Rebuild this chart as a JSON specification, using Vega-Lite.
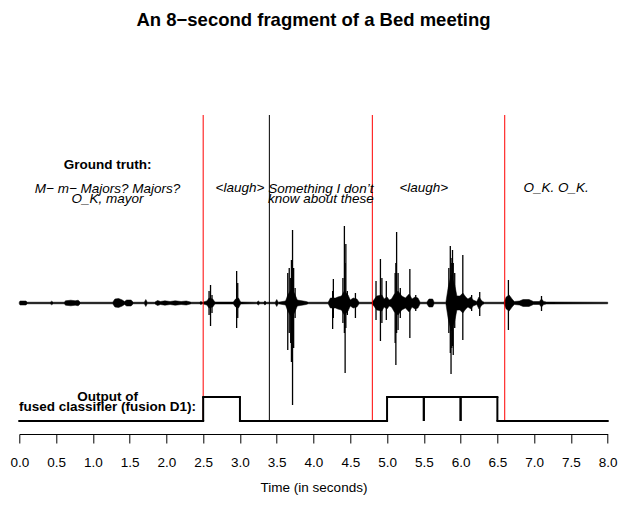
{
  "$schema": "https://vega.github.io/schema/vega-lite/v6.json",
  "width": 588.4,
  "height": 374,
  "autosize": {"type": "none"},
  "padding": {"left": 19.3, "top": 60, "right": 13.3, "bottom": 76},
  "background": "white",
  "title": {"text": "An 8−second fragment of a Bed meeting", "font": "Liberation Sans", "fontSize": 18.5, "fontWeight": "bold", "color": "black", "anchor": "middle", "frame": "group", "offset": 31},
  "config": {
    "view": {"stroke": null},
    "axisX": {"domainColor": "black", "tickColor": "black", "tickSize": 9, "tickCount": 16, "format": ".1f", "grid": false, "labelFont": "Liberation Sans", "labelFontSize": 13.5, "labelColor": "black", "labelPadding": 12, "labelFlush": false, "labelOverlap": false, "titleFont": "Liberation Sans", "titleFontSize": 13.5, "titleFontWeight": "normal", "titleColor": "black", "titlePadding": 12}
  },
  "datasets": {
    "body": [
      {"t":0.00,"lo":-0.8,"hi":0.8},{"t":0.01,"lo":-2,"hi":2},{"t":0.09,"lo":-2,"hi":2},{"t":0.11,"lo":-0.8,"hi":0.8},
      {"t":0.42,"lo":-0.8,"hi":0.8},{"t":0.44,"lo":-1.8,"hi":1.8},{"t":0.46,"lo":-0.8,"hi":0.8},{"t":0.61,"lo":-0.8,"hi":0.8},
      {"t":0.63,"lo":-2.2,"hi":2.2},{"t":0.70,"lo":-2.8,"hi":2.8},{"t":0.76,"lo":-2.2,"hi":2.2},{"t":0.80,"lo":-2.8,"hi":2.8},
      {"t":0.83,"lo":-0.8,"hi":0.8},{"t":1.27,"lo":-0.8,"hi":0.8},{"t":1.30,"lo":-4,"hi":4},{"t":1.35,"lo":-4.5,"hi":4.5},
      {"t":1.40,"lo":-3,"hi":3},{"t":1.43,"lo":-1.5,"hi":1.5},{"t":1.46,"lo":-3,"hi":3},{"t":1.52,"lo":-3,"hi":3},
      {"t":1.55,"lo":-0.8,"hi":0.8},{"t":1.70,"lo":-0.8,"hi":0.8},{"t":1.72,"lo":-3.5,"hi":3.5},{"t":1.74,"lo":-0.8,"hi":0.8},
      {"t":1.84,"lo":-0.8,"hi":0.8},{"t":1.88,"lo":-2.5,"hi":2.5},{"t":1.92,"lo":-1.5,"hi":1.5},{"t":1.98,"lo":-2.2,"hi":2.2},
      {"t":2.05,"lo":-1.5,"hi":1.5},{"t":2.12,"lo":-2.2,"hi":2.2},{"t":2.20,"lo":-1.5,"hi":1.5},{"t":2.27,"lo":-2,"hi":2},
      {"t":2.34,"lo":-0.8,"hi":0.8},{"t":2.45,"lo":-0.8,"hi":0.8},{"t":2.47,"lo":-1.6,"hi":1.6},{"t":2.49,"lo":-0.8,"hi":0.8},
      {"t":2.55,"lo":-2,"hi":2},{"t":2.58,"lo":-5,"hi":5},{"t":2.63,"lo":-4,"hi":4},{"t":2.66,"lo":-1,"hi":1},
      {"t":2.91,"lo":-1,"hi":1},{"t":2.94,"lo":-4,"hi":4},{"t":2.98,"lo":-5,"hi":5},{"t":3.01,"lo":-1,"hi":1},
      {"t":3.23,"lo":-0.8,"hi":0.8},{"t":3.25,"lo":-2,"hi":2},{"t":3.27,"lo":-0.8,"hi":0.8},{"t":3.32,"lo":-0.8,"hi":0.8},
      {"t":3.34,"lo":-2,"hi":2},{"t":3.36,"lo":-0.8,"hi":0.8},{"t":3.48,"lo":-0.8,"hi":0.8},{"t":3.50,"lo":-3.5,"hi":3.5},
      {"t":3.52,"lo":-0.8,"hi":0.8},{"t":3.62,"lo":-2,"hi":2},{"t":3.65,"lo":-8,"hi":8},{"t":3.70,"lo":-14,"hi":14},
      {"t":3.74,"lo":-10,"hi":10},{"t":3.78,"lo":-3,"hi":3},{"t":3.82,"lo":-2.5,"hi":2.5},{"t":3.90,"lo":-1.5,"hi":1.5},
      {"t":3.93,"lo":-0.8,"hi":0.8},{"t":4.20,"lo":-0.8,"hi":0.8},{"t":4.23,"lo":-5,"hi":5},{"t":4.30,"lo":-5,"hi":5},
      {"t":4.33,"lo":-6,"hi":6},{"t":4.38,"lo":-7,"hi":7},{"t":4.42,"lo":-12,"hi":12},{"t":4.47,"lo":-8,"hi":8},
      {"t":4.50,"lo":-3,"hi":3},{"t":4.54,"lo":-5,"hi":5},{"t":4.59,"lo":-4,"hi":4},{"t":4.62,"lo":-0.8,"hi":0.8},
      {"t":4.79,"lo":-0.8,"hi":0.8},{"t":4.82,"lo":-3,"hi":3},{"t":4.86,"lo":-7,"hi":7},{"t":4.93,"lo":-8,"hi":8},
      {"t":4.96,"lo":-4,"hi":4},{"t":5.00,"lo":-6,"hi":6},{"t":5.03,"lo":-3,"hi":3},{"t":5.06,"lo":-4,"hi":4},
      {"t":5.10,"lo":-9,"hi":9},{"t":5.15,"lo":-12,"hi":12},{"t":5.20,"lo":-7,"hi":7},{"t":5.25,"lo":-5,"hi":5},
      {"t":5.30,"lo":-9,"hi":9},{"t":5.34,"lo":-4,"hi":4},{"t":5.38,"lo":-6,"hi":6},{"t":5.42,"lo":-5,"hi":5},
      {"t":5.45,"lo":-0.8,"hi":0.8},{"t":5.54,"lo":-0.8,"hi":0.8},{"t":5.57,"lo":-4,"hi":4},{"t":5.62,"lo":-4,"hi":4},
      {"t":5.64,"lo":-0.8,"hi":0.8},{"t":5.80,"lo":-0.8,"hi":0.8},{"t":5.83,"lo":-15,"hi":15},{"t":5.87,"lo":-28,"hi":28},
      {"t":5.92,"lo":-18,"hi":18},{"t":5.95,"lo":-7,"hi":7},{"t":5.99,"lo":-7,"hi":7},{"t":6.03,"lo":-10,"hi":10},
      {"t":6.07,"lo":-6,"hi":6},{"t":6.10,"lo":-4,"hi":4},{"t":6.14,"lo":-6,"hi":6},{"t":6.17,"lo":-3,"hi":3},
      {"t":6.22,"lo":-1.5,"hi":1.5},{"t":6.25,"lo":-6,"hi":6},{"t":6.29,"lo":-2,"hi":2},{"t":6.32,"lo":-0.8,"hi":0.8},
      {"t":6.59,"lo":-0.8,"hi":0.8},{"t":6.62,"lo":-6,"hi":6},{"t":6.66,"lo":-8,"hi":8},{"t":6.70,"lo":-4,"hi":4},
      {"t":6.73,"lo":-1.5,"hi":1.5},{"t":6.80,"lo":-2,"hi":2},{"t":6.85,"lo":-3.5,"hi":3.5},{"t":6.93,"lo":-3.5,"hi":3.5},
      {"t":6.99,"lo":-1.5,"hi":1.5},{"t":7.07,"lo":-1.5,"hi":1.5},{"t":7.10,"lo":-4,"hi":4},{"t":7.13,"lo":-1.5,"hi":1.5},
      {"t":7.17,"lo":-1,"hi":1},{"t":8.00,"lo":-0.8,"hi":0.8}
    ],
    "spikes": [
      {"t":2.58,"lo":-12,"hi":12},{"t":2.60,"lo":-23,"hi":18},{"t":2.62,"lo":-10,"hi":8},
      {"t":2.955,"lo":-25,"hi":32},{"t":2.97,"lo":-15,"hi":20},
      {"t":3.65,"lo":-47,"hi":30},{"t":3.67,"lo":-30,"hi":35},{"t":3.69,"lo":-40,"hi":25},{"t":3.70,"lo":-59,"hi":43},
      {"t":3.715,"lo":-102,"hi":73},{"t":3.73,"lo":-45,"hi":35},{"t":3.75,"lo":-15,"hi":15},
      {"t":4.26,"lo":-26,"hi":12},{"t":4.27,"lo":-15,"hi":24},
      {"t":4.40,"lo":-20,"hi":25},{"t":4.42,"lo":-30,"hi":77},{"t":4.43,"lo":-70,"hi":40},{"t":4.44,"lo":-25,"hi":59},{"t":4.46,"lo":-12,"hi":12},
      {"t":4.57,"lo":-15,"hi":10},
      {"t":4.85,"lo":-17,"hi":22},{"t":4.91,"lo":-38,"hi":44},{"t":4.93,"lo":-20,"hi":25},{"t":4.99,"lo":-17,"hi":22},
      {"t":5.11,"lo":-40,"hi":30},{"t":5.12,"lo":-62,"hi":40},{"t":5.13,"lo":-30,"hi":71},{"t":5.15,"lo":-27,"hi":30},{"t":5.18,"lo":-15,"hi":15},
      {"t":5.31,"lo":-35,"hi":34},{"t":5.39,"lo":-8,"hi":8},
      {"t":5.84,"lo":-30,"hi":35},{"t":5.86,"lo":-50,"hi":57},{"t":5.87,"lo":-71,"hi":45},{"t":5.88,"lo":-45,"hi":40},
      {"t":5.89,"lo":-43,"hi":53},{"t":5.90,"lo":-52,"hi":40},{"t":5.92,"lo":-25,"hi":30},
      {"t":6.03,"lo":-37,"hi":48},{"t":6.15,"lo":-8,"hi":8},{"t":6.26,"lo":-13,"hi":11},
      {"t":6.65,"lo":-27,"hi":23},{"t":7.10,"lo":-8,"hi":7}
    ],
    "boundaries": [
      {"t": 2.5, "kind": "major"},
      {"t": 3.4, "kind": "minor"},
      {"t": 4.8, "kind": "major"},
      {"t": 6.6, "kind": "major"}
    ],
    "transcripts": [
      {"t": 1.2, "y": 114.3, "text": "M− m− Majors? Majors?\nO_K, mayor"},
      {"t": 3.0, "y": 115.5, "text": "<laugh>"},
      {"t": 4.1, "y": 114.3, "text": "Something I don’t\nknow about these"},
      {"t": 5.5, "y": 115.5, "text": "<laugh>"},
      {"t": 7.3, "y": 115.5, "text": "O_K. O_K."}
    ],
    "headers": [
      {"t": 1.2, "y": 138, "text": "Ground truth:"},
      {"t": 1.2, "y": -94.3, "text": "Output of\nfused classifier (fusion D1):"}
    ],
    "classifier": [
      {"start": 0.0, "end": 0.5, "output": 0}, {"start": 0.5, "end": 1.0, "output": 0},
      {"start": 1.0, "end": 1.5, "output": 0}, {"start": 1.5, "end": 2.0, "output": 0},
      {"start": 2.0, "end": 2.5, "output": 0}, {"start": 2.5, "end": 3.0, "output": 1},
      {"start": 3.0, "end": 3.5, "output": 0}, {"start": 3.5, "end": 4.0, "output": 0},
      {"start": 4.0, "end": 4.5, "output": 0}, {"start": 4.5, "end": 5.0, "output": 0},
      {"start": 5.0, "end": 5.5, "output": 1}, {"start": 5.5, "end": 6.0, "output": 1},
      {"start": 6.0, "end": 6.5, "output": 1}, {"start": 6.5, "end": 7.0, "output": 0},
      {"start": 7.0, "end": 7.5, "output": 0}, {"start": 7.5, "end": 8.0, "output": 0}
    ]
  },
  "layer": [
    {
      "data": {"name": "body"},
      "mark": {"type": "area", "color": "black", "stroke": "black", "strokeWidth": 0.5, "interpolate": "linear"},
      "encoding": {
        "x": {"field": "t", "type": "quantitative", "scale": {"domain": [0, 8], "nice": false, "zero": false}, "title": "Time (in seconds)"},
        "y": {"field": "hi", "type": "quantitative", "scale": {"domain": [-131, 243], "nice": false, "zero": false}, "axis": null},
        "y2": {"field": "lo"}
      }
    },
    {
      "data": {"name": "spikes"},
      "mark": {"type": "rule", "color": "black", "strokeWidth": 1.3},
      "encoding": {
        "x": {"field": "t", "type": "quantitative", "scale": {"domain": [0, 8], "nice": false, "zero": false}, "title": "Time (in seconds)"},
        "y": {"field": "hi", "type": "quantitative", "scale": {"domain": [-131, 243], "nice": false, "zero": false}, "axis": null},
        "y2": {"field": "lo"}
      }
    },
    {
      "data": {"name": "boundaries"},
      "mark": {"type": "rule", "strokeWidth": 1},
      "encoding": {
        "x": {"field": "t", "type": "quantitative", "scale": {"domain": [0, 8], "nice": false, "zero": false}, "title": "Time (in seconds)"},
        "y": {"datum": 188, "scale": {"domain": [-131, 243], "nice": false, "zero": false}, "axis": null},
        "y2": {"datum": -118},
        "color": {"field": "kind", "type": "nominal", "scale": {"domain": ["major", "minor"], "range": ["#ff0000", "#000000"]}, "legend": null}
      }
    },
    {
      "data": {"name": "transcripts"},
      "mark": {"type": "text", "font": "Liberation Sans", "fontSize": 13.5, "fontStyle": "italic", "align": "center", "baseline": "middle", "lineBreak": "\n", "lineHeight": 10, "color": "black"},
      "encoding": {
        "x": {"field": "t", "type": "quantitative", "scale": {"domain": [0, 8], "nice": false, "zero": false}, "title": "Time (in seconds)"},
        "y": {"field": "y", "type": "quantitative", "scale": {"domain": [-131, 243], "nice": false, "zero": false}, "axis": null},
        "text": {"field": "text", "type": "nominal"}
      }
    },
    {
      "data": {"name": "headers"},
      "mark": {"type": "text", "font": "Liberation Sans", "fontSize": 13.5, "fontWeight": "bold", "align": "center", "baseline": "middle", "lineBreak": "\n", "lineHeight": 10, "color": "black"},
      "encoding": {
        "x": {"field": "t", "type": "quantitative", "scale": {"domain": [0, 8], "nice": false, "zero": false}, "title": "Time (in seconds)"},
        "y": {"field": "y", "type": "quantitative", "scale": {"domain": [-131, 243], "nice": false, "zero": false}, "axis": null},
        "text": {"field": "text", "type": "nominal"}
      }
    },
    {
      "data": {"name": "classifier"},
      "mark": {"type": "rule", "color": "black", "strokeWidth": 2, "strokeCap": "square"},
      "encoding": {
        "x": {"field": "start", "type": "quantitative", "scale": {"domain": [0, 8], "nice": false, "zero": false}, "title": "Time (in seconds)"},
        "x2": {"field": "end"},
        "y": {"field": "output", "type": "quantitative", "scale": {"domain": [-0.5417, 15.0417], "nice": false, "zero": false}, "axis": null}
      }
    },
    {
      "data": {"name": "classifier"},
      "mark": {"type": "rule", "color": "black", "strokeWidth": 2},
      "encoding": {
        "x": {"field": "start", "type": "quantitative", "scale": {"domain": [0, 8], "nice": false, "zero": false}, "title": "Time (in seconds)"},
        "y": {"field": "output", "type": "quantitative", "scale": {"domain": [-0.5417, 15.0417], "nice": false, "zero": false}, "axis": null},
        "y2": {"datum": 0}
      }
    },
    {
      "data": {"name": "classifier"},
      "mark": {"type": "rule", "color": "black", "strokeWidth": 2},
      "encoding": {
        "x": {"field": "end", "type": "quantitative", "scale": {"domain": [0, 8], "nice": false, "zero": false}, "title": "Time (in seconds)"},
        "y": {"field": "output", "type": "quantitative", "scale": {"domain": [-0.5417, 15.0417], "nice": false, "zero": false}, "axis": null},
        "y2": {"datum": 0}
      }
    }
  ],
  "resolve": {"scale": {"y": "independent"}}
}
